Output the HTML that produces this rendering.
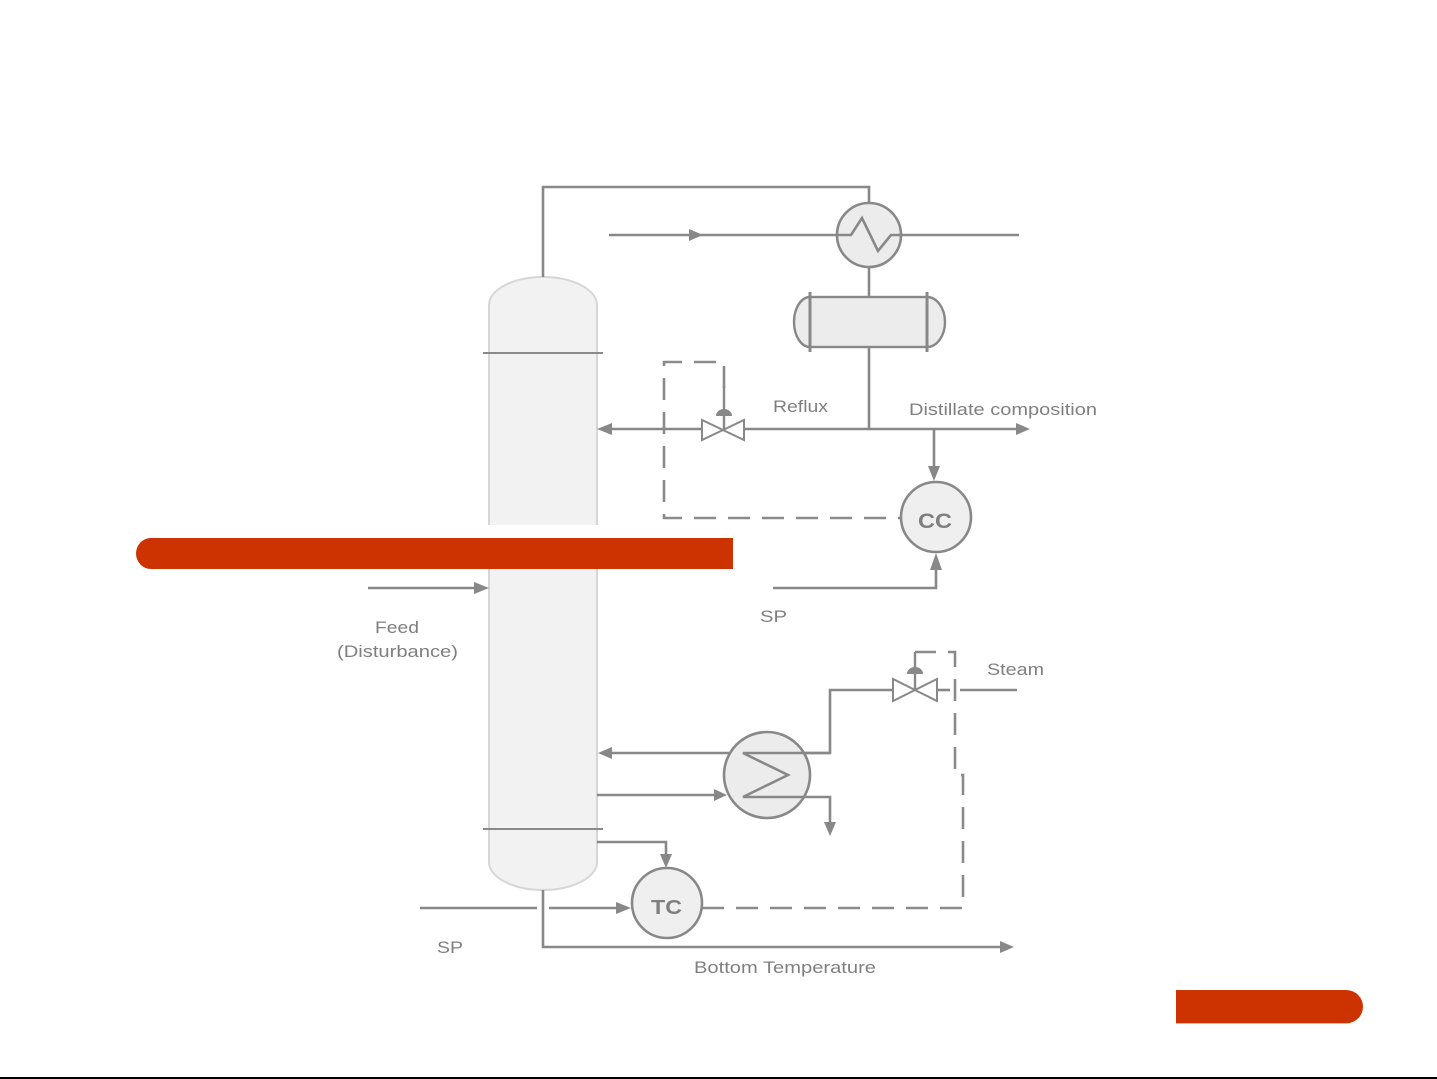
<!DOCTYPE html>
<html>
<head>
<meta charset="utf-8">
<style>
html,body{margin:0;padding:0;background:#fff;}
body{width:1437px;height:1079px;overflow:hidden;position:relative;}
svg{position:absolute;left:0;top:0;}
text{font-family:"Liberation Sans",Arial,sans-serif;fill:#7f7f7f;}
</style>
</head>
<body>
<svg width="1437" height="1079" viewBox="0 0 1437 1079" xmlns="http://www.w3.org/2000/svg">
  <rect x="0" y="0" width="1437" height="1079" fill="#fff"/>

  <!-- Column -->
  <path d="M489 305 A54 28 0 0 1 597 305 V862 A54 28 0 0 1 489 862 Z" fill="#f2f2f2" stroke="#d6d6d6" stroke-width="2"/>
  <line x1="483" y1="353" x2="603" y2="353" stroke="#8a8a8a" stroke-width="2"/>
  <line x1="483" y1="829" x2="603" y2="829" stroke="#8a8a8a" stroke-width="2"/>

  <g fill="none" stroke="#888" stroke-width="2.6">
    <!-- Overhead vapor -->
    <path d="M543 277 V187 H869 V203"/>
    <!-- Condenser to drum, drum to reflux -->
    <line x1="869" y1="267" x2="869" y2="297"/>
    <line x1="869" y1="347" x2="869" y2="429"/>
    <!-- cooling water -->
    <line x1="609" y1="235" x2="837" y2="235"/>
    <line x1="901" y1="235" x2="1019" y2="235"/>
    <!-- reflux line -->
    <line x1="610" y1="429" x2="702" y2="429"/>
    <line x1="744" y1="429" x2="1018" y2="429"/>
    <!-- to CC -->
    <line x1="934" y1="429" x2="934" y2="468"/>
    <!-- SP to CC -->
    <path d="M773 588 H936 V568"/>
    <!-- feed -->
    <line x1="368" y1="588" x2="476" y2="588"/>
    <!-- steam / reboiler -->
    <path d="M893 690 H830 V753 H610"/>
    <line x1="937" y1="690" x2="950" y2="690"/>
    <line x1="960" y1="690" x2="1017" y2="690"/>
    <line x1="597" y1="795" x2="716" y2="795"/>
    <!-- TC sensor -->
    <path d="M597 842 H666 V856"/>
    <!-- SP to TC -->
    <line x1="420" y1="908" x2="537" y2="908"/>
    <line x1="549" y1="908" x2="618" y2="908"/>
    <!-- bottoms -->
    <path d="M543 890 V947 H1002"/>
  </g>

  <!-- Condenser -->
  <circle cx="869" cy="235" r="32" fill="#ececec" stroke="#888" stroke-width="2.6"/>
  <polyline points="837,235 851,235 862,218 878,251 891,235 901,235" fill="none" stroke="#888" stroke-width="2.6"/>

  <!-- Reflux drum -->
  <rect x="810" y="297" width="117" height="50" fill="#ececec" stroke="#888" stroke-width="2.4"/>
  <path d="M810 297 A16 25 0 0 0 810 347" fill="#ececec" stroke="#888" stroke-width="2.4"/>
  <path d="M927 297 A18 25 0 0 1 927 347" fill="#ececec" stroke="#888" stroke-width="2.4"/>
  <line x1="810" y1="292" x2="810" y2="352" stroke="#888" stroke-width="3"/>
  <line x1="927" y1="292" x2="927" y2="352" stroke="#888" stroke-width="3"/>

  <!-- Reboiler -->
  <circle cx="767" cy="775" r="43" fill="#ececec" stroke="#888" stroke-width="2.6"/>
  <path d="M830 753 H743 L788 775 L743 797 H830 V824" fill="none" stroke="#888" stroke-width="2.6"/>

  <!-- Dashed signal lines -->
  <path d="M724 388 V362 H664 V518 H900" fill="none" stroke="#8a8a8a" stroke-width="2.6" stroke-dasharray="22 12"/>
  <path d="M702 908 H963 V775 H955 V652 H915" fill="none" stroke="#8a8a8a" stroke-width="2.6" stroke-dasharray="22 12"/>

  <!-- Valve 1 -->
  <line x1="724" y1="386" x2="724" y2="429" stroke="#888" stroke-width="2.4"/>
  <path d="M716 416 A8 7 0 0 1 732 416 Z" fill="#888"/>
  <polygon points="702,420 702,440 723,430" fill="#fff" stroke="#888" stroke-width="2"/>
  <polygon points="744,420 744,440 723,430" fill="#fff" stroke="#888" stroke-width="2"/>

  <!-- Valve 2 -->
  <line x1="915" y1="652" x2="915" y2="690" stroke="#888" stroke-width="2.4"/>
  <path d="M907 674 A8 7 0 0 1 923 674 Z" fill="#888"/>
  <polygon points="893,679 893,701 915,690" fill="#fff" stroke="#888" stroke-width="2"/>
  <polygon points="937,679 937,701 915,690" fill="#fff" stroke="#888" stroke-width="2"/>

  <!-- Arrowheads -->
  <g fill="#888">
    <polygon points="689,229 703,235 689,241"/>
    <polygon points="612,423 597,429 612,435"/>
    <polygon points="1016,423 1030,429 1016,435"/>
    <polygon points="928,466 934,481 940,466"/>
    <polygon points="930,570 936,553 942,570"/>
    <polygon points="474,582 489,588 474,594"/>
    <polygon points="612,747 598,753 612,759"/>
    <polygon points="714,789 727,795 714,801"/>
    <polygon points="824,822 830,836 836,822"/>
    <polygon points="660,854 666,868 672,854"/>
    <polygon points="616,902 631,908 616,914"/>
    <polygon points="1000,941 1014,947 1000,953"/>
  </g>

  <!-- Controllers -->
  <circle cx="936" cy="517" r="35" fill="#efefef" stroke="#888" stroke-width="2.6"/>
  <circle cx="667" cy="903" r="35" fill="#efefef" stroke="#888" stroke-width="2.6"/>
  <text x="918" y="528" font-size="21" font-weight="bold" textLength="34" lengthAdjust="spacingAndGlyphs" fill="#777">CC</text>
  <text x="651" y="914" font-size="20" font-weight="bold" textLength="31" lengthAdjust="spacingAndGlyphs" fill="#777">TC</text>

  <!-- Labels -->
  <text x="773" y="412" font-size="17" textLength="55" lengthAdjust="spacingAndGlyphs">Reflux</text>
  <text x="909" y="415" font-size="17" textLength="188" lengthAdjust="spacingAndGlyphs">Distillate composition</text>
  <text x="760" y="622" font-size="17" textLength="27" lengthAdjust="spacingAndGlyphs">SP</text>
  <text x="375" y="633" font-size="17" textLength="44" lengthAdjust="spacingAndGlyphs">Feed</text>
  <text x="337" y="657" font-size="17" textLength="121" lengthAdjust="spacingAndGlyphs">(Disturbance)</text>
  <text x="987" y="675" font-size="17" textLength="57" lengthAdjust="spacingAndGlyphs">Steam</text>
  <text x="437" y="953" font-size="17" textLength="26" lengthAdjust="spacingAndGlyphs">SP</text>
  <text x="694" y="973" font-size="17" textLength="182" lengthAdjust="spacingAndGlyphs">Bottom Temperature</text>

  <!-- Title bar overlay -->
  <rect x="470" y="525" width="130" height="14" fill="#fff"/>
  <path d="M151 538 H733 V569 H151 A15 15.5 0 0 1 151 538 Z" fill="#cc3300"/>

  <!-- bottom right red bar -->
  <path d="M1176 990 H1346 A17 16.7 0 0 1 1346 1023.4 H1176 Z" fill="#cc3300"/>

  <!-- bottom black line -->
  <rect x="0" y="1077" width="1437" height="2" fill="#000"/>
</svg>
</body>
</html>
